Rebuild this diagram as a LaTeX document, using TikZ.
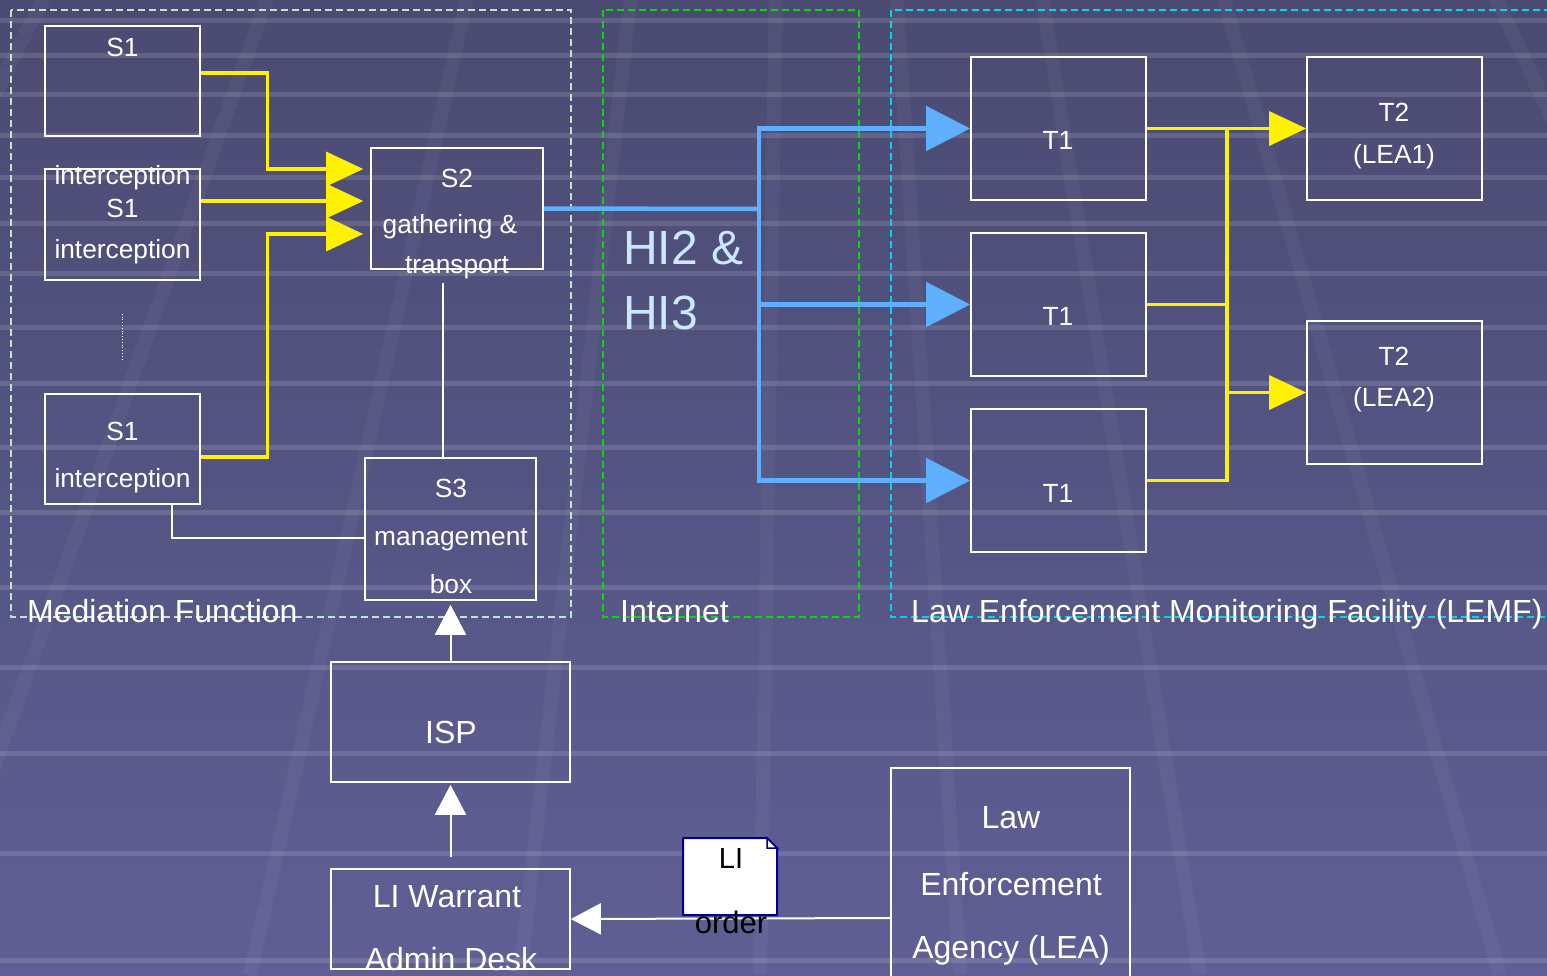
\documentclass[tikz,border=0pt]{standalone}
\usepackage{fontspec}
\setmainfont{Liberation Sans}
\usetikzlibrary{arrows.meta,positioning}

\definecolor{bgtop}{HTML}{4A4A72}
\definecolor{bgbot}{HTML}{5F5F95}
\definecolor{hiblue}{HTML}{5FAFFF}
\definecolor{hitext}{HTML}{CBE8FF}
\definecolor{mfgreen}{HTML}{BFE6C8}
\definecolor{netgreen}{HTML}{00DD00}
\definecolor{lemfcyan}{HTML}{00D8E8}
\definecolor{docblue}{HTML}{000090}

\begin{document}
\begin{tikzpicture}[x=1pt,y=-1pt,
box/.style={draw=white,line width=1.6pt,minimum width=155pt,minimum height=110pt,inner sep=0pt},
txt/.style={text=white,anchor=base,inner sep=0pt,font=\fontsize{26.3}{30}\selectfont},
big/.style={txt,font=\fontsize{32}{36}\selectfont},
area/.style={line width=1.3pt,dash pattern=on 7pt off 4pt},
yelline/.style={draw=yellow,line width=3.3pt},
yel/.style={yelline,-{Triangle[length=37pt,width=34pt]}},
blueline/.style={draw=hiblue,line width=4.5pt},
bluearr/.style={blueline,-{Triangle[length=44pt,width=44pt]}},
wline/.style={draw=white,line width=1.5pt},
warr/.style={draw=white,line width=2pt,-{Triangle[length=30pt,width=31pt]}}]

\useasboundingbox (0,0) rectangle (1547,975);
% background
\shade[top color=bgtop,bottom color=bgbot] (0,0) rectangle (1547,975);
\foreach \r in {-900,-450,-80,250,520,760,960,1200,1500,1950}
  \draw[white,opacity=.04,line width=14pt] (800,-1500) -- (\r,975);
\foreach \h in {20,55,94,135,177,223,273,327,383,447,512,587,667,753,853,960}
  \draw[white,opacity=.13,line width=5pt] (0,\h) -- (1547,\h);

% dashed areas
\draw[area,draw=mfgreen] (11,10) rectangle (571,617);
\draw[area,draw=netgreen] (603,10) rectangle (859,617);
\draw[area,draw=lemfcyan] (891,10) rectangle (1560,617);

% boxes
\node[box] (s1a) at (122.5,81) {};
\node[box,minimum height=111pt] (s1b) at (122.5,224.5) {};
\node[box] (s1c) at (122.5,449) {};
\node[box,minimum width=172pt,minimum height=121pt] (s2) at (457,208.5) {};
\node[box,minimum width=171pt,minimum height=142pt] (s3) at (450.5,529) {};
\node[box,minimum width=239pt,minimum height=120pt] (isp) at (450.5,722) {};
\node[box,minimum width=239pt,minimum height=100pt] (warrant) at (450.5,919) {};
\node[box,minimum width=239pt,minimum height=232pt] (lea) at (1010.5,884) {};
\node[box,minimum width=175pt,minimum height=143pt] (t1a) at (1058.5,128.5) {};
\node[box,minimum width=175pt,minimum height=143pt] (t1b) at (1058.5,304.5) {};
\node[box,minimum width=175pt,minimum height=143pt] (t1c) at (1058.5,480.5) {};
\node[box,minimum width=175pt,minimum height=143pt] (t2a) at (1394.5,128.5) {};
\node[box,minimum width=175pt,minimum height=143pt] (t2b) at (1394.5,392.5) {};

% yellow into S2
\draw[yel] ([yshift=8pt]s1a.east) -- ++(67,0) |- ([yshift=39.5pt,xshift=-7pt]s2.west);
\draw[yel] ([yshift=23.5pt]s1b.east) -- ([yshift=7.5pt,xshift=-7pt]s2.west);
\draw[yel] ([yshift=-8pt]s1c.east) -- ++(67,0) |- ([yshift=-25.5pt,xshift=-7pt]s2.west);
\draw[white,dotted,line width=.8pt] ([yshift=-33pt]s1b.south) -- ([yshift=34pt]s1c.north);

% white links
\draw[wline] ([xshift=-14pt,yshift=-13pt]s2.south) -- ([xshift=-7.5pt]s3.north);
\draw[wline] ([xshift=49.5pt]s1c.south) |- ([yshift=-9pt]s3.west);
\draw[warr] (isp.north) -- ([yshift=-4pt]s3.south);
\draw[warr,shorten <=11pt] (warrant.north) -- ([yshift=-2pt]isp.south);
\draw[warr] ([yshift=-34pt]lea.west) -- (warrant.east);

% HI2 & HI3
\coordinate (hub) at (759,209);
\draw[blueline] (s2.east) -- (hub);
\draw[blueline] (hub |- t1a.west) -- (hub |- t1c.west);
\foreach \t in {t1a,t1b,t1c}
  \draw[bluearr] ([xshift=-2.25pt]hub |- \t.west) -- (\t.west);

% T1 to T2
\coordinate (bus) at (1227,128.5);
\draw[yel] (t1a.east) -- (t2a.west);
\draw[yelline] (t1c.east) -| (bus);
\draw[yelline] (t1b.east) -- (t1b.east -| bus);
\draw[yel] ([xshift=-1.65pt]bus |- t2b.west) -- (t2b.west);

% LI order sheet
\filldraw[fill=white,draw=docblue,line width=2pt,line join=round]
  (683,838) -- (767,838) -- (777,848) -- (777,915) -- (683,915) -- cycle;
\filldraw[fill=white,draw=docblue,line width=1.5pt] (767,838) -- (767,848) -- (777,848) -- cycle;

% texts
\node[txt] (s1aT) at (122.5,56) {S1};
\node[txt] (s1bX) at (122.5,184) {interception};
\node[txt] (s1bT) at (122.5,217) {S1};
\node[txt] (s1bU) at (122.5,258) {interception};
\node[txt] (s1cT) at (122.5,440) {S1};
\node[txt] (s1cU) at (122.5,487) {interception};
\node[txt] (s2T) at (457,187) {S2};
\node[txt] (s2U) at (450,233) {gathering \&};
\node[txt] (s2V) at (457,273) {transport};
\node[txt] (s3T) at (451,497) {S3};
\node[txt] (s3U) at (451,545) {management};
\node[txt] (s3V) at (451,593) {box};
\node[txt] (t1aT) at (1058,149) {T1};
\node[txt] (t1bT) at (1058,325) {T1};
\node[txt] (t1cT) at (1058,502) {T1};
\node[txt] (t2aT) at (1394,121) {T2};
\node[txt] (t2aU) at (1394,163) {(LEA1)};
\node[txt] (t2bT) at (1394,365) {T2};
\node[txt] (t2bU) at (1394,406) {(LEA2)};
\node[big] (ispT) at (451,743) {ISP};
\node[big] (warrantT) at (447,907) {LI Warrant};
\node[big] (warrantU) at (451,970) {Admin Desk};
\node[big] (leaT) at (1011,828) {Law};
\node[big] (leaU) at (1011,895) {Enforcement};
\node[big] (leaV) at (1011,958) {Agency (LEA)};
\node[big,text=black,font=\fontsize{29}{34}\selectfont] (docT) at (731,868) {LI};
\node[big,text=black,font=\fontsize{31}{34}\selectfont] (docU) at (731,933) {order};
\node[txt,anchor=base west,text=hitext,font=\fontsize{48}{56}\selectfont] (hiT) at (623,264) {HI2 \&};
\node[txt,anchor=base west,text=hitext,font=\fontsize{48}{56}\selectfont] (hiU) at (623,329) {HI3};
\node[big,anchor=base west] (mfL) at (27,622) {Mediation Function};
\node[big,anchor=base west] (netL) at (620,622) {Internet};
\node[big,anchor=base west] (lemfL) at (911,622) {Law Enforcement Monitoring Facility (LEMF)};
\end{tikzpicture}
\end{document}
